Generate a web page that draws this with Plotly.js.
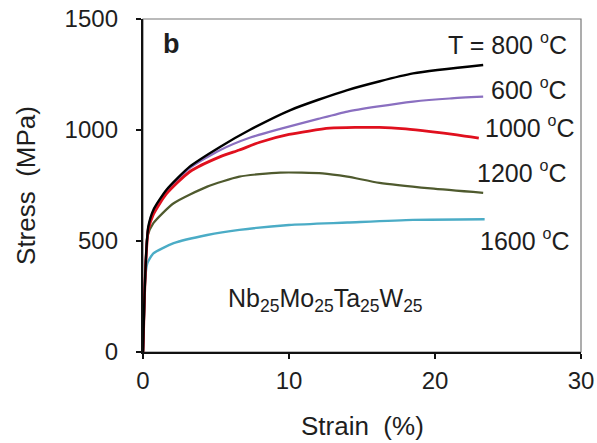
<!DOCTYPE html>
<html><head><meta charset="utf-8">
<script src="https://cdn.plot.ly/plotly-3.0.1.min.js"></script>
<style>html,body{margin:0;padding:0;background:#fff}#c{width:597px;height:443px}</style>
</head><body><div id="c"></div>
<script>
const strain800 = [0,0.1,0.25,0.36,0.71,1.6,3.2,5.3,7.3,10.1,14,18.5,23.3];
const stress800 = [0,250,480,564,640,730,835,925,1000,1090,1180,1255,1293];
const strain600 = [0,0.1,0.25,0.36,0.71,1.6,3.2,5.3,7.3,9.4,12,14,16,18.5,21,23.3];
const stress600 = [0,250,480,560,635,725,828,910,965,1005,1050,1083,1105,1128,1142,1150];
const strain1000 = [0,0.1,0.25,0.36,0.71,1.6,3.2,5.3,6.6,8,10,12.8,16.2,18,19.7,21.5,23.0];
const stress1000 = [0,250,470,550,620,712,812,880,910,945,980,1008,1012,1005,993,978,963];
const strain1200 = [0,0.1,0.2,0.3,0.71,2.1,4.4,6.6,9.4,12.3,14,16.2,19.7,23.3];
const stress1200 = [0,230,420,520,580,670,745,790,808,805,790,762,737,717];
const strain1600 = [0,0.08,0.15,0.3,0.71,2.1,4.4,6.6,10,14,18.5,23.4];
const stress1600 = [0,200,330,400,444,490,527,550,572,583,595,598];
const xTicks = [0,10,20,30];
const yTicks = [0,500,1000,1500];

const F = 'Liberation Sans, Arial, sans-serif';
const C = '#1e1e1e';
const DEG = '<sup><span style="font-size:16px">o</span></sup>';
const mk = (x,y,c,w)=>({x:x,y:y,type:'scatter',mode:'lines',line:{color:c,width:w,shape:'spline',smoothing:0.6},hoverinfo:'skip'});
const traces = [
  mk(strain1600,stress1600,'#4bacc6',2.4),
  mk(strain1200,stress1200,'#4f5a2e',2.2),
  mk(strain600,stress600,'#8a6fc0',2.2),
  mk(strain1000,stress1000,'#e0101e',2.8),
  mk(strain800,stress800,'#000000',2.4)
];
const ann = (x,y,t,opt)=>Object.assign({xref:'paper',yref:'paper',x:x,y:y,yanchor:'middle',text:t,showarrow:false,font:{family:F,size:25,color:C}},opt||{});
const W=438, H=333;
const px=(p)=>(p-143)/W, py=(p)=>(352-p)/H;
const layout = {
  width:597,height:443,
  margin:{l:143,r:16,t:19,b:91},
  paper_bgcolor:'#fff',plot_bgcolor:'#fff',
  showlegend:false,
  font:{family:F,size:24,color:C},
  xaxis:{range:[0,30],tickvals:xTicks,ticktext:xTicks.map(String),showgrid:false,zeroline:false,
    showline:true,linecolor:'#111',linewidth:2.2,ticks:'outside',ticklen:5,tickwidth:2.2,tickcolor:'#111',
    ticklabelstandoff:1,tickfont:{family:F,size:24,color:C},
    title:{text:'',font:{family:F,size:26,color:C}}},
  yaxis:{range:[0,1500],tickvals:yTicks,ticktext:yTicks.map(String),showgrid:false,zeroline:false,
    showline:true,linecolor:'#111',linewidth:2.2,ticks:'outside',ticklen:5,tickwidth:2.2,tickcolor:'#111',
    ticklabelstandoff:13,tickfont:{family:F,size:24,color:C},
    title:{text:'Stress  (MPa)',font:{family:F,size:26,color:C},standoff:22}},
  shapes:[{type:'rect',xref:'paper',yref:'paper',x0:0,x1:1,y0:0,y1:1,line:{color:'#777',width:1.2},layer:'below'}],
  annotations:[
    ann(px(161),py(44),'<b>b</b>',{xanchor:'left',font:{family:F,size:27,color:C}}),
    ann(px(569),py(44),'T = 800 '+DEG+'C',{xanchor:'right'}),
    ann(px(569),py(89),'600 '+DEG+'C',{xanchor:'right'}),
    ann(px(577),py(127),'1000 '+DEG+'C',{xanchor:'right'}),
    ann(px(569),py(172),'1200 '+DEG+'C',{xanchor:'right'}),
    ann(px(572),py(240),'1600 '+DEG+'C',{xanchor:'right'}),
    ann(px(325),py(300),'Nb<sub>25</sub>Mo<sub>25</sub>Ta<sub>25</sub>W<sub>25</sub>',{xanchor:'center'}),
    ann(px(362),py(426),'Strain  (%)',{xanchor:'center',font:{family:F,size:26,color:C}})
  ]
};
Plotly.newPlot('c',traces,layout,{staticPlot:true,displayModeBar:false});
</script></body></html>
